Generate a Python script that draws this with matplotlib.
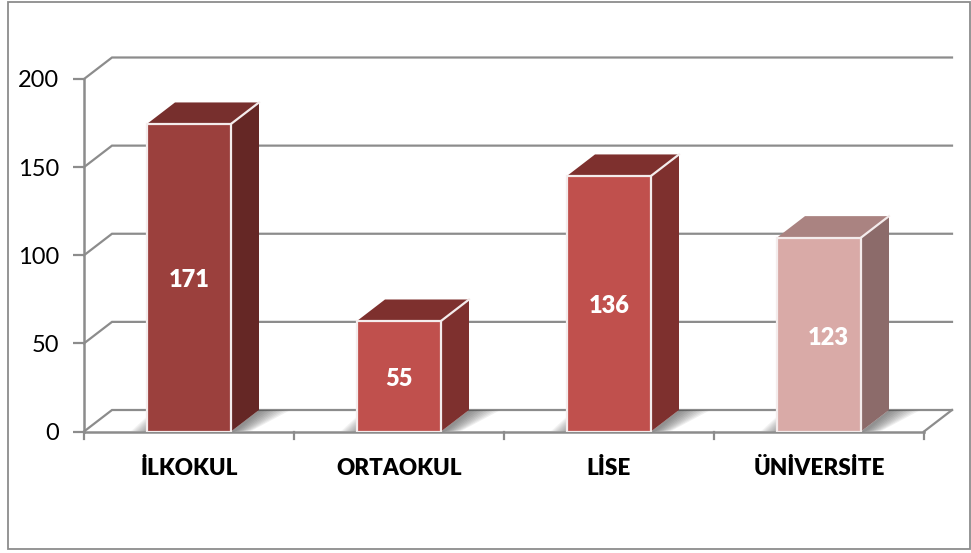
import matplotlib
matplotlib.use("Agg")
import matplotlib.pyplot as plt
from matplotlib.patches import Polygon, Rectangle

categories = ["İLKOKUL", "ORTAOKUL", "LİSE", "ÜNİVERSİTE"]
bar_heights = [174.5, 62.7, 145, 110]      # heights as drawn on the axis
bar_labels = ["171", "55", "136", "123"]   # labels as printed on the bars
label_levels = [86, 30, 71, 53]
label_shift = [0, 0, 0, 0.043]
yticks = [0, 50, 100, 150, 200]

front_colors = ["#9B403D", "#C0504D", "#C0504D", "#D9AAA7"]
top_colors = ["#772F2D", "#7E302E", "#7E302E", "#AA8381"]
side_colors = ["#652725", "#7E302E", "#7E302E", "#8C6B6A"]
GRID = "#8C8C8C"

W, H = 971, 553
L, R, T, B = 84, 924, 79, 431.5
fig = plt.figure(figsize=(W / 100, H / 100), dpi=100)
fig.patch.set_facecolor("white")
ax = fig.add_axes([L / W, 1 - B / H, (R - L) / W, (B - T) / H])
ax.set_xlim(-0.5, 3.5)
ax.set_ylim(0, 200)
ax.patch.set_visible(False)
for s in ax.spines.values():
    s.set_visible(False)

plt.rcParams["font.family"] = ["Lato", "DejaVu Sans"]
DX = 28 / 210          # depth in category units
DY = 21.5 / 1.7625     # depth in value units
BW = 0.4

# chart frame
fig.add_artist(Rectangle((7.5 / W, 1 - 548.5 / H), 962 / W, 547 / H, transform=fig.transFigure,
                         fill=False, ec="#8C8C8C", lw=1.3))

# walls: back gridlines with depth connectors
for v in yticks:
    ax.plot([-0.5, -0.5 + DX, 3.5 + DX], [v, v + DY, v + DY], color=GRID, lw=1.6,
            clip_on=False, zorder=1, solid_joinstyle="miter")
ax.plot([3.5, 3.5 + DX], [0, DY], color=GRID, lw=1.6, clip_on=False, zorder=1)
ax.plot([-0.5, 3.5], [0, 0], color=GRID, lw=1.8, clip_on=False, zorder=2)
ax.plot([-0.5, -0.5], [0, 200], color=GRID, lw=1.8, clip_on=False, zorder=2)

# ticks
ax.set_yticks(yticks)
ax.set_yticklabels([str(v) for v in yticks], fontsize=17, color="black", family="Lato")
ax.set_xticks(range(4))
ax.set_xticklabels(categories, fontsize=16.2, fontweight="heavy", color="black", family="Lato")
ax.tick_params(axis="y", length=8, width=1.6, color=GRID, pad=10)
ax.tick_params(axis="x", length=0, pad=19)
for b in [-0.5, 0.5, 1.5, 2.5, 3.5]:
    ax.plot([b, b], [0, -4], color=GRID, lw=1.6, clip_on=False, zorder=2)

# bars
for i, (h, lab, lev, sh) in enumerate(zip(bar_heights, bar_labels, label_levels, label_shift)):
    x0, x1 = i - BW / 2, i + BW / 2
    # floor shadows, soft edge built from stacked translucent polygons
    for k in range(10):
        f = (k + 1) / 10
        ax.add_patch(Polygon([(x1, 0), (x1 + DX, DY), (x1 + DX + 0.15 * f, DY), (x1 + 0.02 + 0.08 * f, 0.5)],
                             fc="#404040", ec="none", alpha=0.08, zorder=3, clip_on=False))
        ax.add_patch(Polygon([(x0, 0), (x0, DY * 0.7 * f), (x0 - 0.075 * f, 0.3)],
                             fc="#606060", ec="none", alpha=0.07, zorder=3, clip_on=False))
    ax.add_patch(Polygon([(x1, 0), (x1 + DX, DY), (x1 + DX, h + DY), (x1, h)],
                         fc=side_colors[i], ec="none", zorder=4, clip_on=False))
    ax.add_patch(Polygon([(x0, h), (x0 + DX, h + DY), (x1 + DX, h + DY), (x1, h)],
                         fc=top_colors[i], ec="none", zorder=4, clip_on=False))
    ax.add_patch(Rectangle((x0, 0), BW, h, fc=front_colors[i], ec="#F4ECEC", lw=1.6, zorder=5))
    ax.plot([x1, x1 + DX], [h, h + DY], color="#F4ECEC", lw=1.6, zorder=5, clip_on=False)
    ax.text(i + sh, lev, lab, ha="center", va="center", color="white", fontsize=17,
            fontweight="heavy", family="Lato", zorder=6)

fig.savefig("out.png", dpi=100)
